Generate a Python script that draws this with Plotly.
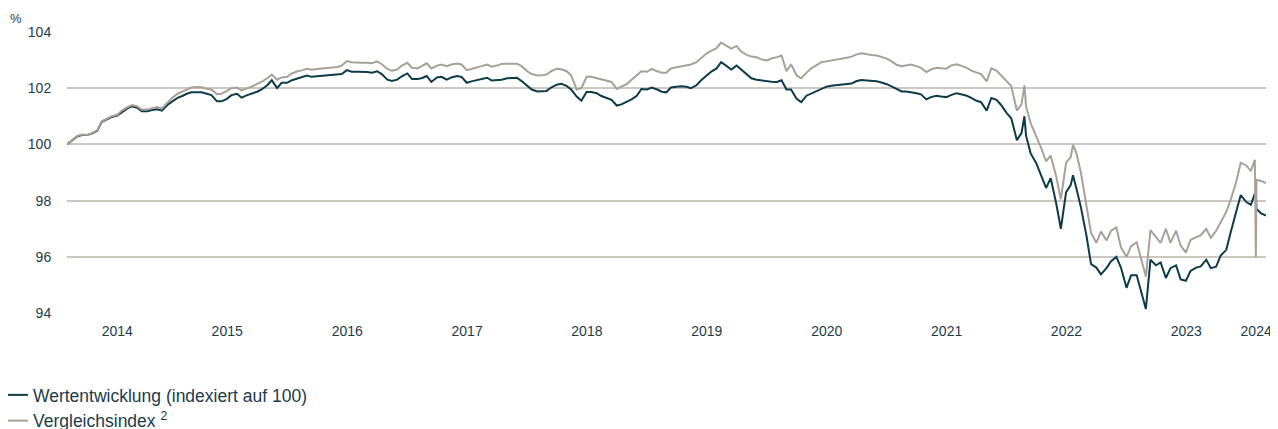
import pandas as pd
import plotly.graph_objects as go

# semi-monthly observation dates, March 2014 .. March 2024
dates = list(pd.date_range("2014-03-01", "2024-03-01", freq="SMS"))

fund = [
    100.0,100.12,100.28,100.33,100.33,100.38,100.48,100.8,100.9,100.97,101.02,101.15,101.28,101.35,101.3,101.18,101.18,101.22,101.25,101.2,101.4,101.52,101.65,101.72,
    101.8,101.85,101.85,101.85,101.8,101.75,101.53,101.53,101.62,101.75,101.8,101.66,101.75,101.8,101.87,101.95,102.1,102.28,102.0,102.19,102.19,102.28,102.35,102.38,
    102.45,102.4,102.42,102.43,102.43,102.45,102.47,102.5,102.64,102.58,102.58,102.58,102.57,102.55,102.6,102.5,102.3,102.25,102.3,102.42,102.52,102.32,102.32,102.36,
    102.43,102.22,102.38,102.4,102.3,102.38,102.43,102.4,102.19,102.24,102.28,102.33,102.37,102.27,102.28,102.3,102.35,102.37,102.37,102.25,102.07,101.95,101.88,101.88,
    101.9,102.02,102.12,102.15,102.08,101.95,101.7,101.55,101.86,101.86,101.82,101.72,101.65,101.58,101.38,101.42,101.52,101.6,101.73,101.97,101.95,102.02,101.95,101.87,
    101.85,102.02,102.05,102.07,102.05,102.0,102.1,102.28,102.44,102.58,102.7,102.92,102.78,102.66,102.8,102.65,102.48,102.35,102.3,102.27,102.25,102.23,102.22,102.28,
    101.95,101.95,101.62,101.5,101.73,101.8,101.9,101.98,102.05,102.08,102.1,102.1,102.12,102.16,102.25,102.29,102.27,102.26,102.24,102.2,102.14,102.06,101.95,101.88,
    101.88,101.86,101.82,101.78,101.6,101.68,101.73,101.7,101.68,101.75,101.82,101.78,101.73,101.65,101.55,101.5,101.2,101.65,101.58,101.4,101.11,100.93,100.15,100.4,
    100.3,99.68,99.33,98.9,98.45,98.8,97.89,97.0,98.3,98.55,98.45,97.77,96.75,95.74,95.62,95.38,95.6,95.85,96.0,95.62,94.9,95.35,95.35,94.7,
    94.15,95.9,95.7,95.8,95.25,95.6,95.7,95.2,95.15,95.5,95.62,95.66,95.9,95.6,95.65,96.05,96.25,96.9,97.55,98.2,97.95,97.85,97.7,97.55,97.47,
]

bench = [
    100.0,100.13,100.3,100.35,100.33,100.4,100.5,100.82,100.93,101.0,101.05,101.2,101.32,101.4,101.35,101.24,101.24,101.28,101.33,101.28,101.5,101.65,101.8,101.88,
    101.95,102.02,102.04,102.03,101.98,101.95,101.78,101.8,101.9,102.0,102.02,101.92,102.0,102.05,102.15,102.22,102.35,102.48,102.3,102.38,102.4,102.52,102.6,102.63,
    102.69,102.65,102.68,102.7,102.72,102.72,102.75,102.8,102.96,102.92,102.9,102.9,102.9,102.88,102.95,102.85,102.68,102.62,102.66,102.8,102.9,102.72,102.7,102.78,
    102.88,102.7,102.8,102.84,102.78,102.84,102.87,102.84,102.64,102.68,102.72,102.78,102.84,102.76,102.8,102.86,102.87,102.87,102.87,102.78,102.6,102.5,102.45,102.46,
    102.48,102.6,102.69,102.67,102.6,102.45,101.95,102.0,102.4,102.4,102.35,102.3,102.27,102.22,101.97,102.05,102.15,102.3,102.45,102.6,102.58,102.68,102.6,102.55,
    102.55,102.7,102.74,102.78,102.8,102.84,102.92,103.06,103.23,103.32,103.42,103.62,103.5,103.4,103.5,103.3,103.18,103.12,103.1,103.02,102.98,103.05,103.1,103.16,
    102.6,102.85,102.45,102.35,102.55,102.7,102.82,102.92,102.95,102.98,103.0,103.02,103.08,103.12,103.2,103.24,103.2,103.18,103.16,103.12,103.05,102.95,102.82,102.78,
    102.82,102.84,102.78,102.72,102.57,102.66,102.72,102.7,102.69,102.8,102.85,102.8,102.72,102.62,102.55,102.5,102.24,102.7,102.62,102.45,102.25,102.07,101.2,101.42,
    101.35,100.75,100.3,99.9,99.4,99.6,98.85,98.05,99.35,99.55,99.7,99.0,97.9,96.85,96.5,96.9,96.58,96.93,97.05,96.34,96.0,96.38,96.52,95.9,
    95.3,96.95,96.7,96.5,97.0,96.5,96.93,96.4,96.15,96.6,96.7,96.76,97.0,96.68,96.93,97.25,97.6,98.05,98.65,99.35,99.25,99.05,98.74,98.7,98.62,
]

# extra short-lived moves between the semi-monthly dates
extra_dates = ["2022-02-24", "2022-07-22", "2024-01-27", "2024-01-30"]
extra_fund = [101.0, 98.9, 98.25, 98.2]
extra_bench = [102.1, 99.98, 99.45, 95.98]

year_labels = ["2014", "2015", "2016", "2017", "2018", "2019", "2020", "2021", "2022", "2023", "2024"]
year_label_pos = ["2014-08-01", "2015-07-02", "2016-07-02", "2017-07-02", "2018-07-02", "2019-07-02",
                  "2020-07-02", "2021-07-02", "2022-07-02", "2023-07-02", "2024-01-31"]
y_ticks = [94, 96, 98, 100, 102, 104]

series_names = ["Wertentwicklung (indexiert auf 100)", "Vergleichsindex <sup>2</sup>"]

df = pd.DataFrame({"date": dates + list(pd.to_datetime(extra_dates)),
                   "fund": fund + extra_fund,
                   "bench": bench + extra_bench}).sort_values("date")

DARK = "#0c3b4a"
GREY = "#a8a099"
TXT = "#1d3c4a"
FONT = "Liberation Sans, Arial, sans-serif"

# page has an 8px body margin, so the figure is 8px smaller than the window
W, H = 1270, 421
ML, MR, MT, MB = 59, 12, 23, 115
PW, PH = W - ML - MR, H - MT - MB

fig = go.Figure()
fig.add_trace(go.Scatter(x=df["date"], y=df["fund"], mode="lines", name=series_names[0],
                         line=dict(color=DARK, width=2)))
fig.add_trace(go.Scatter(x=df["date"], y=df["bench"], mode="lines", name=series_names[1],
                         line=dict(color=GREY, width=2)))

fig.update_layout(
    width=W, height=H,
    margin=dict(l=ML, r=MR, t=MT, b=MB, autoexpand=False),
    paper_bgcolor="white", plot_bgcolor="white",
    font=dict(family=FONT, color=TXT, size=14),
    showlegend=True,
    legend=dict(x=-74 / PW, y=1 - (377 - 8 - MT) / PH, xanchor="left", yanchor="top",
                font=dict(size=17.5, color=TXT), bgcolor="rgba(0,0,0,0)",
                itemwidth=30, tracegroupgap=0),
    annotations=[dict(text="%", xref="paper", yref="paper", x=(16 - 8 - ML) / PW,
                      y=1 + (8 + MT - 19) / PH,
                      xanchor="center", yanchor="middle", showarrow=False,
                      font=dict(size=13, color=TXT))],
)
fig.update_xaxes(type="date", range=["2014-03-01", "2024-03-01"], automargin=False,
                 tickmode="array", tickvals=year_label_pos, ticktext=year_labels,
                 showgrid=False, zeroline=False, showline=False,
                 ticks="outside", ticklen=4, tickcolor="rgba(0,0,0,0)",
                 tickfont=dict(size=14, color=TXT))
fig.update_yaxes(range=[93.97, 104.03], automargin=False, tickmode="array", tickvals=y_ticks,
                 ticktext=[str(v) for v in y_ticks],
                 showgrid=True, gridcolor="#cdc7c1", gridwidth=2,
                 zeroline=False, showline=False,
                 ticks="outside", ticklen=12, tickcolor="rgba(0,0,0,0)",
                 tickfont=dict(size=14, color=TXT))

fig.write_html("out.html")
